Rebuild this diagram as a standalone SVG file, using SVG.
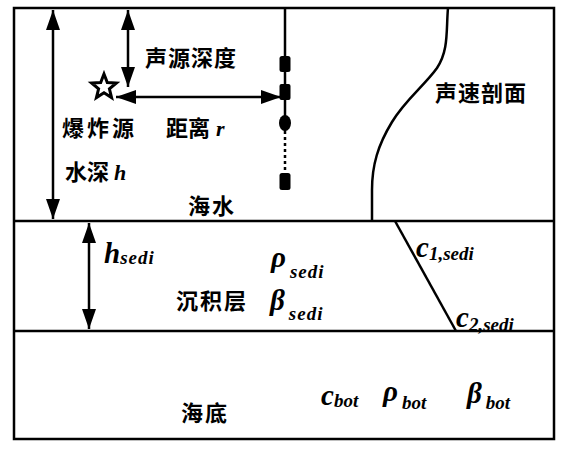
<svg xmlns="http://www.w3.org/2000/svg" width="566" height="453" viewBox="0 0 566 453">
<style>
.ln{stroke:#000;stroke-width:2.5;fill:none}
.cj{font-family:"Noto Sans CJK SC","Noto Sans CJK TC",sans-serif;font-weight:700;font-size:22px;fill:#000}
.m{font-family:"Liberation Serif",serif;font-style:italic;font-weight:700;fill:#000}
.big{font-size:29px}
.sub{font-size:19px}
</style>
<defs>
<marker id="ah" markerUnits="userSpaceOnUse" markerWidth="22" markerHeight="16" refX="20" refY="7" orient="auto-start-reverse">
<path d="M0,0 L20,7 L0,14 Z" fill="#000"/>
</marker>
</defs>
<rect width="566" height="453" fill="#fff"/>
<g id="layers">
<rect x="14" y="8" width="540" height="431" class="ln" stroke-width="3"/>
<line x1="14" y1="221" x2="554" y2="221" class="ln"/>
<line x1="14" y1="331" x2="554" y2="331" class="ln"/>
</g>
<g id="profile">
<path d="M448,8 C446,30 449,50 437,68 C425,85 405,100 392,122 C378,145 372,165 372,190 L372,221" class="ln"/>
<line x1="395" y1="221" x2="456" y2="331" class="ln"/>
</g>
<g id="source">
<polygon points="104,74 107.3,82.5 116.4,83 109.4,88.8 111.6,97.6 104,92.7 96.4,97.6 98.6,88.8 91.6,83 100.7,82.5" fill="#fff" stroke="#000" stroke-width="3" stroke-linejoin="miter"/>
</g>
<g id="array">
<line x1="285" y1="8" x2="285" y2="131" class="ln"/>
<line x1="285" y1="131" x2="285" y2="172" class="ln" stroke-dasharray="3,3"/>
<rect x="279.5" y="56" width="11" height="16" rx="2.5" fill="#000"/>
<rect x="279.5" y="84" width="11" height="16" rx="2" fill="#000"/>
<ellipse cx="285" cy="123" rx="6" ry="8" fill="#000"/>
<rect x="279.5" y="173" width="11" height="17" rx="2.5" fill="#000"/>
</g>
<g id="connectors">
<line x1="53" y1="10" x2="53" y2="219" class="ln" marker-start="url(#ah)" marker-end="url(#ah)"/>
<line x1="128" y1="10" x2="128" y2="87" class="ln" marker-start="url(#ah)" marker-end="url(#ah)"/>
<line x1="116" y1="97" x2="281" y2="97" class="ln" marker-start="url(#ah)" marker-end="url(#ah)"/>
<line x1="89" y1="223" x2="89" y2="329" class="ln" marker-start="url(#ah)" marker-end="url(#ah)"/>
</g>
<g id="labels">
<text class="cj" x="145" y="66" letter-spacing="1">声源深度</text>
<text class="cj" x="435" y="101" letter-spacing="1">声速剖面</text>
<text class="cj" x="62" y="136" letter-spacing="3">爆炸源</text>
<text class="cj" x="166" y="136">距离<tspan class="m" font-size="22" dx="6">r</tspan></text>
<text class="cj" x="65" y="180">水深<tspan class="m" font-size="22" dx="5">h</tspan></text>
<text class="cj" x="188" y="214" letter-spacing="2">海水</text>
<text class="m big" x="104" y="263">h<tspan class="sub" dy="1" letter-spacing="1">sedi</tspan></text>
<text class="m big" x="271" y="267">ρ<tspan class="sub" dx="4" dy="11" letter-spacing="1">sedi</tspan></text>
<text class="cj" x="176" y="309" letter-spacing="2">沉积层</text>
<text class="m big" x="270" y="310">β<tspan class="sub" dx="4" dy="10" letter-spacing="1">sedi</tspan></text>
<text class="m big" x="416" y="257">c<tspan class="sub" dy="3">1,sedi</tspan></text>
<text class="m big" x="456" y="327">c<tspan class="sub" dy="4">2,sedi</tspan></text>
<text class="cj" x="181" y="421" letter-spacing="2">海底</text>
<text class="m big" x="321" y="405">c<tspan class="sub" dy="2">bot</tspan></text>
<text class="m big" x="383" y="401">ρ<tspan class="sub" dx="4" dy="8">bot</tspan></text>
<text class="m big" x="467" y="403">β<tspan class="sub" dx="4" dy="6">bot</tspan></text>
</g>
</svg>
